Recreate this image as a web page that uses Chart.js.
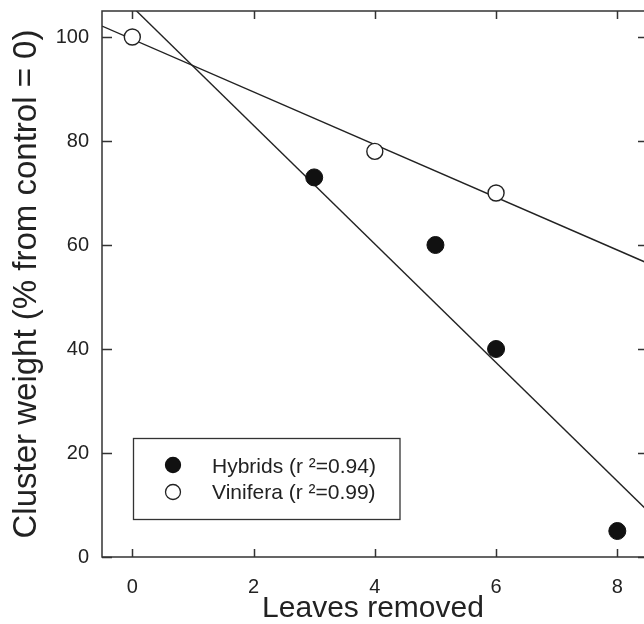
<!DOCTYPE html>
<html><head><meta charset="utf-8">
<script src="https://cdn.jsdelivr.net/npm/chart.js"></script>
<style>
html,body{margin:0;padding:0;background:#fff;overflow:hidden;width:644px;height:624px}
canvas{display:block}
</style></head>
<body><canvas id="c" width="644" height="624" style="width:644px;height:624px"></canvas>
<script>
// ---- data ----
const xTicks = [0, 2, 4, 6, 8];
const yTicks = [0, 20, 40, 60, 80, 100];
const hybridLeaves = [3, 5, 6, 8];
const hybridWeight = [73, 60, 40, 5];
const viniferaLeaves = [0, 4, 6];
const viniferaWeight = [100, 78, 70];
const hybridFitX = [-0.5, 8.5];
const hybridFitY = [111.5, 8.9];
const viniferaFitX = [-0.5, 8.5];
const viniferaFitY = [102.1, 56.5];
const seriesLabels = ['Hybrids (r \u00B2=0.94)', 'Vinifera (r \u00B2=0.99)'];
const xTitle = 'Leaves removed';
const yTitle = 'Cluster weight (% from control = 0)';

const FONT = "'Liberation Sans', Arial, Helvetica, sans-serif";
const INK = '#222';
const pts = (xs, ys) => xs.map((x, i) => ({x: x, y: ys[i]}));

const framePlugin = {
  id: 'frame',
  afterDraw(chart) {
    const {ctx, chartArea: a, scales: {x, y}} = chart;
    const R = a.right + 4; // true frame edge lies just beyond the visible canvas
    ctx.save();
    ctx.strokeStyle = '#333';
    ctx.lineWidth = 1.5;
    ctx.beginPath();
    ctx.moveTo(R, a.top); ctx.lineTo(a.left, a.top);
    ctx.lineTo(a.left, a.bottom); ctx.lineTo(R, a.bottom);
    ctx.stroke();
    ctx.beginPath();
    xTicks.forEach(v => {
      const px = Math.round(x.getPixelForValue(v)) + 0.5;
      ctx.moveTo(px, a.bottom); ctx.lineTo(px, a.bottom - 8);
      ctx.moveTo(px, a.top); ctx.lineTo(px, a.top + 8);
    });
    yTicks.forEach(v => {
      const py = Math.round(y.getPixelForValue(v)) + 0.5;
      ctx.moveTo(a.left, py); ctx.lineTo(a.left + 10, py);
      ctx.moveTo(R, py); ctx.lineTo(R - 10, py);
    });
    ctx.stroke();

    // legend box
    ctx.lineWidth = 1.3;
    ctx.strokeRect(133.5, 438.5, 266.5, 81);
    const ds = chart.data.datasets;
    const rows = [465, 492];
    [0, 1].forEach(i => {
      ctx.beginPath();
      ctx.arc(173, rows[i], 7.5, 0, Math.PI * 2);
      ctx.fillStyle = ds[i].backgroundColor;
      ctx.fill();
      ctx.lineWidth = 1.3;
      ctx.strokeStyle = ds[i].borderColor;
      ctx.stroke();
      ctx.fillStyle = INK;
      ctx.font = '21px ' + FONT;
      ctx.textBaseline = 'alphabetic';
      ctx.textAlign = 'left';
      ctx.fillText(ds[i].label, 212, rows[i] + 7.7 + (i ? -1 : 0));
    });
    ctx.restore();
  }
};

new Chart(document.getElementById('c'), {
  type: 'scatter',
  data: {
    datasets: [
      {label: seriesLabels[0], data: pts(hybridLeaves, hybridWeight),
       backgroundColor: '#111', borderColor: '#111', borderWidth: 1,
       pointRadius: 8.5, order: 1},
      {label: seriesLabels[1], data: pts(viniferaLeaves, viniferaWeight),
       backgroundColor: '#fff', borderColor: '#222', borderWidth: 1.4,
       pointRadius: 8, order: 1},
      {label: 'Hybrids fit', data: pts(hybridFitX, hybridFitY), showLine: true,
       borderColor: INK, borderWidth: 1.4, pointRadius: 0, fill: false, order: 2},
      {label: 'Vinifera fit', data: pts(viniferaFitX, viniferaFitY), showLine: true,
       borderColor: INK, borderWidth: 1.4, pointRadius: 0, fill: false, order: 2}
    ]
  },
  options: {
    responsive: false,
    maintainAspectRatio: false,
    devicePixelRatio: 1,
    animation: false,
    events: [],
    layout: {autoPadding: false, padding: {top: 11, right: 0, left: 0, bottom: 0}},
    plugins: {legend: {display: false}, tooltip: {enabled: false}},
    scales: {
      x: {
        type: 'linear', min: -0.5, max: 8.44,
        afterBuildTicks: s => { s.ticks = xTicks.map(v => ({value: v})); },
        afterFit: s => { s.height = 67; s.paddingLeft = 0; s.paddingRight = 0; },
        grid: {display: false, drawTicks: false},
        border: {display: false},
        ticks: {color: INK, font: {size: 20, family: FONT}, padding: 18, maxRotation: 0},
        title: {display: true, text: xTitle, color: INK,
                font: {size: 30, family: FONT, lineHeight: 1}, padding: {top: 0, bottom: 0}}
      },
      y: {
        type: 'linear', min: 0, max: 105,
        afterBuildTicks: s => { s.ticks = yTicks.map(v => ({value: v})); },
        afterFit: s => { s.width = 102; s.paddingTop = 0; s.paddingBottom = 0; },
        grid: {display: false, drawTicks: false},
        border: {display: false},
        ticks: {color: INK, font: {size: 20, family: FONT}, padding: 13},
        title: {display: true, text: yTitle, color: INK,
                font: {size: 33, family: FONT, lineHeight: 1}, padding: {top: 10, bottom: 0}}
      }
    }
  },
  plugins: [framePlugin]
});
</script>
</body></html>
